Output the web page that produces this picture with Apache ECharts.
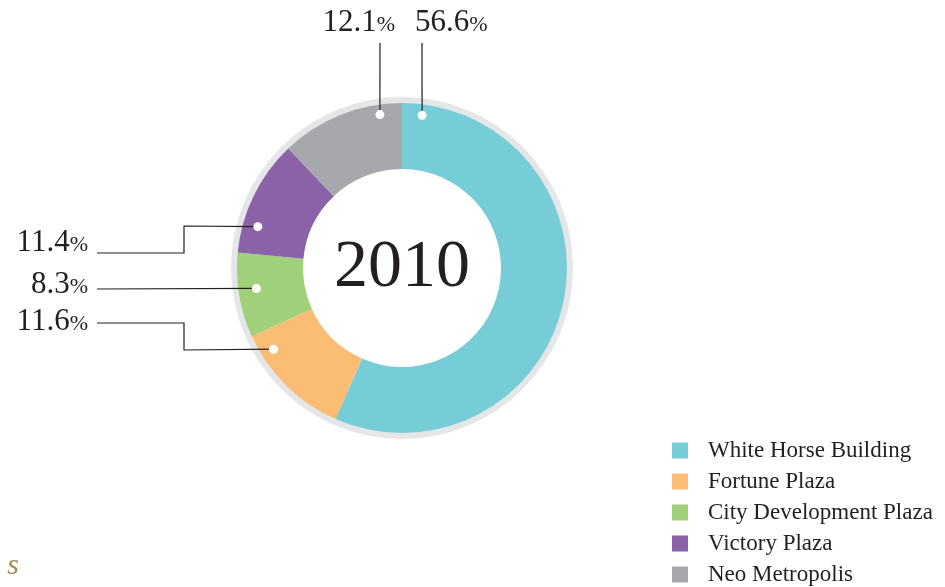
<!DOCTYPE html>
<html>
<head>
<meta charset="utf-8">
<script src="https://cdn.jsdelivr.net/npm/echarts@6/dist/echarts.min.js"></script>
<style>
  html, body { margin: 0; padding: 0; background: #fff; }
  #main { width: 945px; height: 587px; }
</style>
</head>
<body>
<div id="main"></div>
<script>
// ---- data ----
const yearLabel = '2010';
const names = ['White Horse Building', 'Fortune Plaza', 'City Development Plaza', 'Victory Plaza', 'Neo Metropolis'];
const shares = [56.6, 11.6, 8.3, 11.4, 12.1];
const colors = ['#76cdd8', '#fbbc73', '#a0d07a', '#8b61a8', '#a7a8ac'];

// ---- layout (annotation placement, not data) ----
const center = [402, 268];
// where each callout dot sits: angle clockwise from 12 o'clock, distance from centre
const dotAngle = [7.5, 237.7, 262, 286, 351.8];
const dotDist = [154, 152, 147, 150, 155];
// callout bends after the dot, and where the text goes
const bends = [
  [[422, 43]],
  [[184, 350], [184, 323], [97, 323]],
  [[97, 289]],
  [[184, 226], [184, 253], [97, 253]],
  [[380, 43]]
];
const textPos = [
  [415, 23, 'left'],
  [88, 322, 'right'],
  [88, 285, 'right'],
  [88, 243, 'right'],
  [395, 23, 'right']
];

const serif = '"Liberation Serif", "DejaVu Serif", serif';
const ink = '#231f20';

function dotPoint(i) {
  const a = dotAngle[i] * Math.PI / 180;
  return [center[0] + dotDist[i] * Math.sin(a), center[1] - dotDist[i] * Math.cos(a)];
}

const chart = echarts.init(document.getElementById('main'));

// callout lines + white dots drawn on top of the slices
const callouts = [];
shares.forEach(function (v, i) {
  const p = dotPoint(i);
  callouts.push({
    type: 'polyline',
    shape: { points: [p].concat(bends[i]) },
    style: { stroke: ink, lineWidth: 1.2, fill: null },
    z: 99
  });
  callouts.push({
    type: 'circle',
    shape: { cx: p[0], cy: p[1], r: 4.5 },
    style: { fill: '#fff' },
    z: 100
  });
});

const option = {
  animation: false,
  color: colors,
  legend: {
    orient: 'vertical',
    left: 672,
    top: 439,
    height: 200,
    padding: 0,
    icon: 'rect',
    itemWidth: 16,
    itemHeight: 16,
    itemGap: 8,
    data: names,
    textStyle: {
      fontFamily: serif,
      fontSize: 23,
      color: ink,
      padding: [0, 0, 0, 15]
    }
  },
  graphic: callouts.concat([
    {
      type: 'text',
      style: {
        x: center[0], y: center[1],
        text: yearLabel,
        fill: ink,
        font: '68px ' + serif,
        textAlign: 'center',
        textVerticalAlign: 'middle'
      },
      z: 100
    },
    {
      type: 'text',
      style: {
        x: 13, y: 566,
        text: 's',
        fill: '#a08a4f',
        font: 'italic 30px ' + serif,
        textAlign: 'center',
        textVerticalAlign: 'middle'
      }
    }
  ]),
  series: [
    {
      name: 'ring',
      type: 'pie',
      center: center,
      radius: [158, 171],
      silent: true,
      z: 1,
      label: { show: false },
      labelLine: { show: false },
      itemStyle: { color: '#e5e6e8' },
      data: [{ name: '', value: 1 }]
    },
    {
      name: yearLabel,
      type: 'pie',
      center: center,
      radius: [99, 165],
      startAngle: 90,
      clockwise: true,
      z: 2,
      emphasis: { scale: false },
      data: names.map(function (n, i) { return { name: n, value: shares[i] }; }),
      label: {
        show: true,
        position: 'outside',
        formatter: function (p) { return '{v|' + p.value.toFixed(1) + '}{p|%}'; },
        rich: {
          v: { fontFamily: serif, fontSize: 31, color: ink, verticalAlign: 'bottom', lineHeight: 30 },
          p: { fontFamily: serif, fontSize: 22, color: ink, verticalAlign: 'bottom', lineHeight: 30, padding: [0, 0, 2, 0] }
        }
      },
      labelLine: { show: false },
      labelLayout: function (params) {
        const i = params.dataIndex;
        return {
          x: textPos[i][0],
          y: textPos[i][1],
          align: textPos[i][2],
          verticalAlign: 'middle'
        };
      }
    }
  ]
};

chart.setOption(option);
</script>
</body>
</html>
